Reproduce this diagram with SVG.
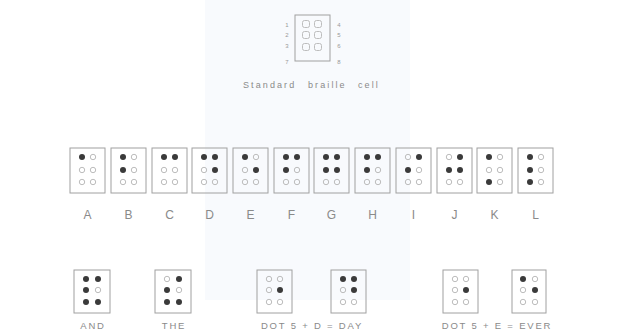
<svg xmlns="http://www.w3.org/2000/svg" width="639" height="335" viewBox="0 0 639 335">
<style>
.box{fill:none;stroke:#a0a0a0;stroke-width:1}
.on{fill:#3a3a3a}
.off{fill:none;stroke:#bdbdbd;stroke-width:1}
.lbl{font-family:"Liberation Sans",Arial,sans-serif;fill:#8a8a8a;text-anchor:middle}
.big{font-size:12px}
.sm{font-size:9.5px;letter-spacing:1.8px}
.cap{font-family:"Liberation Sans",Arial,sans-serif;font-size:9px;letter-spacing:2.1px;fill:#8a8a8a}
.num{font-family:"Liberation Sans",Arial,sans-serif;font-size:6px;fill:#999;text-anchor:middle}
</style>
<rect x="0" y="0" width="639" height="335" fill="#ffffff"/>
<rect x="205" y="0" width="205" height="300" fill="#f8fafd"/>
<g id="standard-cell">
<rect class="box" x="295" y="15" width="35" height="46"/>
<rect class="off" x="302.5" y="20.5" width="7" height="7" rx="2"/>
<rect class="off" x="314.5" y="20.5" width="7" height="7" rx="2"/>
<rect class="off" x="302.5" y="31.5" width="7" height="7" rx="2"/>
<rect class="off" x="314.5" y="31.5" width="7" height="7" rx="2"/>
<rect class="off" x="302.5" y="43.5" width="7" height="7" rx="2"/>
<rect class="off" x="314.5" y="43.5" width="7" height="7" rx="2"/>
<text class="num" x="287" y="27">1</text>
<text class="num" x="287" y="37">2</text>
<text class="num" x="287" y="48">3</text>
<text class="num" x="287" y="64">7</text>
<text class="num" x="339" y="27">4</text>
<text class="num" x="339" y="37">5</text>
<text class="num" x="339" y="48">6</text>
<text class="num" x="339" y="64">8</text>
<text class="cap" x="243" y="88">Standard</text>
<text class="cap" x="308" y="88">braille</text>
<text class="cap" x="358" y="88">cell</text>
</g>
<g id="letter-A"><rect class="box" x="70" y="148" width="35" height="45"/>
<circle class="on" cx="82" cy="157" r="3"/><circle class="off" cx="93" cy="157" r="2.7"/>
<circle class="off" cx="82" cy="170" r="2.7"/><circle class="off" cx="93" cy="170" r="2.7"/>
<circle class="off" cx="82" cy="182" r="2.7"/><circle class="off" cx="93" cy="182" r="2.7"/>
<text class="lbl big" x="87.5" y="219">A</text></g>
<g id="letter-B"><rect class="box" x="111" y="148" width="35" height="45"/>
<circle class="on" cx="123" cy="157" r="3"/><circle class="off" cx="134" cy="157" r="2.7"/>
<circle class="on" cx="123" cy="170" r="3"/><circle class="off" cx="134" cy="170" r="2.7"/>
<circle class="off" cx="123" cy="182" r="2.7"/><circle class="off" cx="134" cy="182" r="2.7"/>
<text class="lbl big" x="128.5" y="219">B</text></g>
<g id="letter-C"><rect class="box" x="152" y="148" width="35" height="45"/>
<circle class="on" cx="164" cy="157" r="3"/><circle class="on" cx="175" cy="157" r="3"/>
<circle class="off" cx="164" cy="170" r="2.7"/><circle class="off" cx="175" cy="170" r="2.7"/>
<circle class="off" cx="164" cy="182" r="2.7"/><circle class="off" cx="175" cy="182" r="2.7"/>
<text class="lbl big" x="169.5" y="219">C</text></g>
<g id="letter-D"><rect class="box" x="192" y="148" width="35" height="45"/>
<circle class="on" cx="204" cy="157" r="3"/><circle class="on" cx="215" cy="157" r="3"/>
<circle class="off" cx="204" cy="170" r="2.7"/><circle class="on" cx="215" cy="170" r="3"/>
<circle class="off" cx="204" cy="182" r="2.7"/><circle class="off" cx="215" cy="182" r="2.7"/>
<text class="lbl big" x="209.5" y="219">D</text></g>
<g id="letter-E"><rect class="box" x="233" y="148" width="35" height="45"/>
<circle class="on" cx="245" cy="157" r="3"/><circle class="off" cx="256" cy="157" r="2.7"/>
<circle class="off" cx="245" cy="170" r="2.7"/><circle class="on" cx="256" cy="170" r="3"/>
<circle class="off" cx="245" cy="182" r="2.7"/><circle class="off" cx="256" cy="182" r="2.7"/>
<text class="lbl big" x="250.5" y="219">E</text></g>
<g id="letter-F"><rect class="box" x="274" y="148" width="35" height="45"/>
<circle class="on" cx="286" cy="157" r="3"/><circle class="on" cx="297" cy="157" r="3"/>
<circle class="on" cx="286" cy="170" r="3"/><circle class="off" cx="297" cy="170" r="2.7"/>
<circle class="off" cx="286" cy="182" r="2.7"/><circle class="off" cx="297" cy="182" r="2.7"/>
<text class="lbl big" x="291.5" y="219">F</text></g>
<g id="letter-G"><rect class="box" x="314" y="148" width="35" height="45"/>
<circle class="on" cx="326" cy="157" r="3"/><circle class="on" cx="337" cy="157" r="3"/>
<circle class="on" cx="326" cy="170" r="3"/><circle class="on" cx="337" cy="170" r="3"/>
<circle class="off" cx="326" cy="182" r="2.7"/><circle class="off" cx="337" cy="182" r="2.7"/>
<text class="lbl big" x="331.5" y="219">G</text></g>
<g id="letter-H"><rect class="box" x="355" y="148" width="35" height="45"/>
<circle class="on" cx="367" cy="157" r="3"/><circle class="on" cx="378" cy="157" r="3"/>
<circle class="on" cx="367" cy="170" r="3"/><circle class="off" cx="378" cy="170" r="2.7"/>
<circle class="off" cx="367" cy="182" r="2.7"/><circle class="off" cx="378" cy="182" r="2.7"/>
<text class="lbl big" x="372.5" y="219">H</text></g>
<g id="letter-I"><rect class="box" x="396" y="148" width="35" height="45"/>
<circle class="off" cx="408" cy="157" r="2.7"/><circle class="on" cx="419" cy="157" r="3"/>
<circle class="on" cx="408" cy="170" r="3"/><circle class="off" cx="419" cy="170" r="2.7"/>
<circle class="off" cx="408" cy="182" r="2.7"/><circle class="off" cx="419" cy="182" r="2.7"/>
<text class="lbl big" x="413.5" y="219">I</text></g>
<g id="letter-J"><rect class="box" x="437" y="148" width="35" height="45"/>
<circle class="off" cx="449" cy="157" r="2.7"/><circle class="on" cx="460" cy="157" r="3"/>
<circle class="on" cx="449" cy="170" r="3"/><circle class="on" cx="460" cy="170" r="3"/>
<circle class="off" cx="449" cy="182" r="2.7"/><circle class="off" cx="460" cy="182" r="2.7"/>
<text class="lbl big" x="454.5" y="219">J</text></g>
<g id="letter-K"><rect class="box" x="477" y="148" width="35" height="45"/>
<circle class="on" cx="489" cy="157" r="3"/><circle class="off" cx="500" cy="157" r="2.7"/>
<circle class="off" cx="489" cy="170" r="2.7"/><circle class="off" cx="500" cy="170" r="2.7"/>
<circle class="on" cx="489" cy="182" r="3"/><circle class="off" cx="500" cy="182" r="2.7"/>
<text class="lbl big" x="494.5" y="219">K</text></g>
<g id="letter-L"><rect class="box" x="518" y="148" width="35" height="45"/>
<circle class="on" cx="530" cy="157" r="3"/><circle class="off" cx="541" cy="157" r="2.7"/>
<circle class="on" cx="530" cy="170" r="3"/><circle class="off" cx="541" cy="170" r="2.7"/>
<circle class="on" cx="530" cy="182" r="3"/><circle class="off" cx="541" cy="182" r="2.7"/>
<text class="lbl big" x="535.5" y="219">L</text></g>
<g id="word-AND"><rect class="box" x="74" y="270" width="36" height="43"/>
<circle class="on" cx="86" cy="279" r="3"/><circle class="on" cx="98" cy="279" r="3"/>
<circle class="on" cx="86" cy="290" r="3"/><circle class="off" cx="98" cy="290" r="2.7"/>
<circle class="on" cx="86" cy="302" r="3"/><circle class="on" cx="98" cy="302" r="3"/>
<text class="lbl sm" x="93" y="329">AND</text></g>
<g id="word-THE"><rect class="box" x="155" y="270" width="36" height="43"/>
<circle class="off" cx="167" cy="279" r="2.7"/><circle class="on" cx="179" cy="279" r="3"/>
<circle class="on" cx="167" cy="290" r="3"/><circle class="off" cx="179" cy="290" r="2.7"/>
<circle class="on" cx="167" cy="302" r="3"/><circle class="on" cx="179" cy="302" r="3"/>
<text class="lbl sm" x="174" y="329">THE</text></g>
<g id="dot5-day">
<rect class="box" x="257" y="270" width="35" height="43"/>
<circle class="off" cx="269" cy="279" r="2.7"/><circle class="off" cx="280" cy="279" r="2.7"/>
<circle class="off" cx="269" cy="290" r="2.7"/><circle class="on" cx="280" cy="290" r="3"/>
<circle class="off" cx="269" cy="302" r="2.7"/><circle class="off" cx="280" cy="302" r="2.7"/>
<rect class="box" x="331" y="270" width="35" height="43"/>
<circle class="on" cx="343" cy="279" r="3"/><circle class="on" cx="354" cy="279" r="3"/>
<circle class="off" cx="343" cy="290" r="2.7"/><circle class="on" cx="354" cy="290" r="3"/>
<circle class="off" cx="343" cy="302" r="2.7"/><circle class="off" cx="354" cy="302" r="2.7"/>
<text class="lbl sm" x="312" y="329">DOT 5 + D = DAY</text></g>
<g id="dot5-ever">
<rect class="box" x="443" y="270" width="35" height="43"/>
<circle class="off" cx="455" cy="279" r="2.7"/><circle class="off" cx="466" cy="279" r="2.7"/>
<circle class="off" cx="455" cy="290" r="2.7"/><circle class="on" cx="466" cy="290" r="3"/>
<circle class="off" cx="455" cy="302" r="2.7"/><circle class="off" cx="466" cy="302" r="2.7"/>
<rect class="box" x="512" y="270" width="34" height="43"/>
<circle class="on" cx="523" cy="279" r="3"/><circle class="off" cx="535" cy="279" r="2.7"/>
<circle class="off" cx="523" cy="290" r="2.7"/><circle class="on" cx="535" cy="290" r="3"/>
<circle class="off" cx="523" cy="302" r="2.7"/><circle class="off" cx="535" cy="302" r="2.7"/>
<text class="lbl sm" x="497" y="329">DOT 5 + E = EVER</text></g>
</svg>
